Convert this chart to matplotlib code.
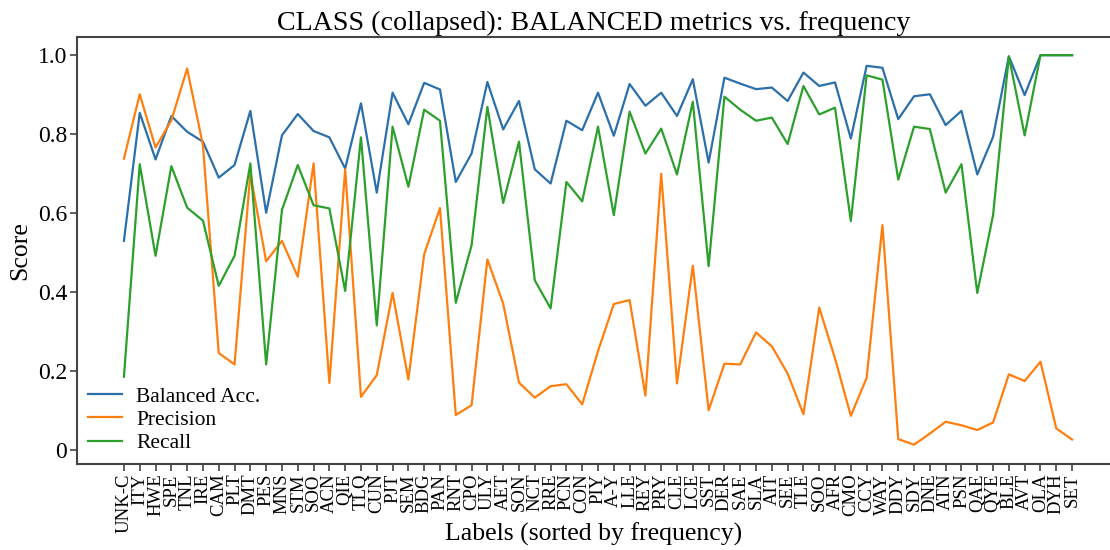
import numpy as np
import matplotlib.pyplot as plt

plt.rcParams["font.family"] = ["Liberation Serif", "DejaVu Serif"]

labels = ["UNK-C", "ITY", "HWE", "SPE", "TNL", "IRE", "CAM", "PLT", "DMT", "PES",
          "MNS", "STM", "SOO", "ACN", "QIE", "TLQ", "CUN", "PJT", "SEM", "BDG",
          "PAN", "RNT", "CPO", "ULY", "AET", "SON", "NCT", "RRE", "PCN", "CON",
          "PIY", "A-Y", "LLE", "REY", "PRY", "CLE", "LCE", "SST", "DER", "SAE",
          "SLA", "AIT", "SEE", "TLE", "SOO", "AFR", "CMO", "CCY", "WAY", "DDY",
          "SDY", "DNE", "ATN", "PSN", "QAE", "QYE", "BLE", "AVT", "OLA", "DYH",
          "SET"]

balanced_acc = [0.530, 0.854, 0.736, 0.846, 0.806, 0.781, 0.690, 0.722, 0.859, 0.601,
                0.797, 0.851, 0.808, 0.792, 0.713, 0.878, 0.652, 0.905, 0.825, 0.930,
                0.913, 0.679, 0.751, 0.932, 0.812, 0.884, 0.711, 0.675, 0.834, 0.810,
                0.905, 0.796, 0.927, 0.872, 0.905, 0.846, 0.939, 0.728, 0.943, 0.928,
                0.914, 0.918, 0.884, 0.956, 0.922, 0.931, 0.789, 0.973, 0.968, 0.838,
                0.896, 0.901, 0.823, 0.859, 0.698, 0.793, 0.997, 0.899, 1.000, 1.000,
                1.000]

precision = [0.738, 0.901, 0.766, 0.835, 0.966, 0.772, 0.246, 0.217, 0.700, 0.478,
             0.530, 0.439, 0.726, 0.170, 0.711, 0.135, 0.190, 0.398, 0.179, 0.496,
             0.613, 0.089, 0.114, 0.483, 0.371, 0.171, 0.133, 0.162, 0.167, 0.116,
             0.251, 0.370, 0.380, 0.138, 0.700, 0.169, 0.467, 0.101, 0.219, 0.217,
             0.298, 0.263, 0.194, 0.091, 0.361, 0.232, 0.087, 0.183, 0.570, 0.028,
             0.014, 0.042, 0.072, 0.063, 0.051, 0.070, 0.192, 0.175, 0.224, 0.055,
             0.027]

recall = [0.186, 0.724, 0.492, 0.719, 0.614, 0.581, 0.416, 0.492, 0.726, 0.217,
          0.608, 0.722, 0.620, 0.612, 0.403, 0.792, 0.316, 0.819, 0.667, 0.862,
          0.834, 0.373, 0.519, 0.869, 0.626, 0.781, 0.430, 0.359, 0.679, 0.630,
          0.819, 0.595, 0.857, 0.751, 0.814, 0.698, 0.882, 0.466, 0.895, 0.862,
          0.834, 0.842, 0.775, 0.922, 0.850, 0.867, 0.580, 0.949, 0.938, 0.685,
          0.819, 0.813, 0.652, 0.724, 0.398, 0.595, 0.997, 0.797, 1.000, 1.000,
          1.000]

x = np.arange(len(labels))

fig = plt.figure(figsize=(11.1, 5.5), dpi=100)
ax = fig.add_axes([77 / 1110, 1 - 464 / 550, (1110 - 77) / 1110, (464 - 37) / 550])

ax.plot(x, balanced_acc, color="#2b6fab", lw=1.6, label="Balanced Acc.")
ax.plot(x, precision, color="#ff7f0e", lw=1.6, label="Precision")
ax.plot(x, recall, color="#2ca02c", lw=1.6, label="Recall")

ax.set_xlim(-2.97, 62.4)
ax.set_ylim(-0.035, 1.046)
ax.set_xticks(x)
ax.set_xticklabels(labels, rotation=90, fontsize=13.5)
ax.set_yticks([0, 0.2, 0.4, 0.6, 0.8, 1.0])
ax.set_yticklabels(["0", "0.2", "0.4", "0.6", "0.8", "1.0"], fontsize=17)
ax.tick_params(axis="both", direction="out", length=5, width=1.2, color="#444444", pad=2)

for s in ["left", "top", "bottom"]:
    ax.spines[s].set_color("#444444")
    ax.spines[s].set_linewidth(1.5)
ax.spines["right"].set_visible(False)

ax.set_title("CLASS (collapsed): BALANCED metrics vs. frequency", fontsize=20.2, pad=5)
ax.set_xlabel("Labels (sorted by frequency)", fontsize=18.5, va="center")
ax.xaxis.set_label_coords(0.5, (464 - 534) / 427)
ax.set_ylabel("Score", fontsize=18.5, labelpad=5)

leg = ax.legend(loc="lower left", fontsize=15.5, frameon=True, framealpha=1,
                edgecolor="none", handlelength=1.6, handletextpad=0.65,
                labelspacing=0.15, borderaxespad=0.1, bbox_to_anchor=(0.0, 0.0))

fig.savefig("out.png", dpi=100)
